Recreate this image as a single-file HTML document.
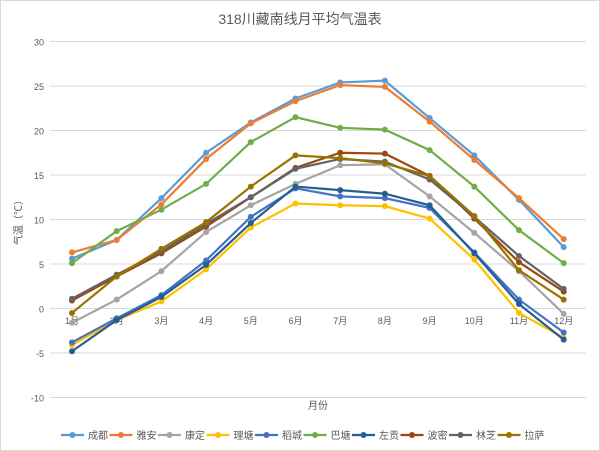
<!DOCTYPE html><html><head><meta charset="utf-8"><style>body{margin:0;background:#fff}svg{display:block;font-family:"Liberation Sans","Noto Sans CJK SC",sans-serif}</style></head><body>
<svg id="c" width="600" height="451" viewBox="0 0 600 451"></svg>
<script>
const s=document.getElementById('c');let h='<rect x="0.5" y="0.5" width="599" height="450" fill="#fff" stroke="#d9d9d9"/>';
h+='<text x="300" y="24" text-anchor="middle" font-size="14" fill="#595959">318川藏南线月平均气温表</text>';
const Y=v=>308.5-v*8.9,X=i=>72+i*44.7;
for(let v=-10;v<=30;v+=5){h+=`<line x1="50" x2="586" y1="${Y(v)}" y2="${Y(v)}" stroke="#d9d9d9"/>`;h+=`<text x="44" y="${Y(v)+4}" text-anchor="end" font-size="9" fill="#595959">${v}</text>`;}
for(let i=0;i<12;i++)h+=`<text x="${X(i)}" y="324" text-anchor="middle" font-size="9" fill="#595959">${i+1}月</text>`;
h+='<text x="318" y="409" text-anchor="middle" font-size="10" fill="#595959">月份</text>';
h+='<text transform="translate(22,220) rotate(-90)" text-anchor="middle" font-size="10" fill="#595959">气温（℃）</text>';
const D=[["成都","#5B9BD5",[5.6,7.7,12.4,17.5,20.9,23.6,25.4,25.6,21.4,17.2,12.2,6.9]],
["雅安","#ED7D31",[6.3,7.7,11.7,16.8,20.8,23.3,25.1,24.9,21.0,16.7,12.4,7.8]],
["康定","#A5A5A5",[-1.6,1.0,4.2,8.6,11.6,14.0,16.1,16.2,12.6,8.5,4.2,-0.6]],
["理塘","#FFC000",[-4.1,-1.3,0.8,4.4,9.1,11.8,11.6,11.5,10.1,5.5,-0.5,-3.3]],
["稻城","#4472C4",[-3.8,-1.1,1.5,5.4,10.3,13.5,12.6,12.4,11.3,6.3,1.0,-2.7]],
["巴塘","#70AD47",[5.1,8.7,11.1,14.0,18.7,21.5,20.3,20.1,17.8,13.7,8.8,5.1]],
["左贡","#255E91",[-4.8,-1.3,1.3,4.9,9.6,13.7,13.3,12.9,11.6,6.2,0.5,-3.5]],
["波密","#9E480E",[0.9,3.6,6.2,9.2,12.5,15.8,17.5,17.4,14.9,10.1,5.2,1.9]],
["林芝","#636363",[1.1,3.8,6.4,9.5,12.5,15.7,16.8,16.5,14.5,10.3,5.9,2.2]],
["拉萨","#997300",[-0.5,3.6,6.7,9.7,13.7,17.2,16.9,16.3,14.9,10.4,4.3,1.0]]];
D.forEach(([n,c,d])=>{h+=`<polyline fill="none" stroke="${c}" stroke-width="2.2" points="${d.map((v,i)=>X(i)+','+Y(v)).join(' ')}"/>`;d.forEach((v,i)=>h+=`<circle cx="${X(i)}" cy="${Y(v)}" r="3" fill="${c}"/>`);});
let lx=61;D.forEach(([n,c])=>{h+=`<line x1="${lx}" x2="${lx+23}" y1="435" y2="435" stroke="${c}" stroke-width="2.2"/><circle cx="${lx+11.5}" cy="435" r="3" fill="${c}"/><text x="${lx+27}" y="439" font-size="10" fill="#595959">${n}</text>`;lx+=48.5;});
s.innerHTML=h;
</script></body></html>
